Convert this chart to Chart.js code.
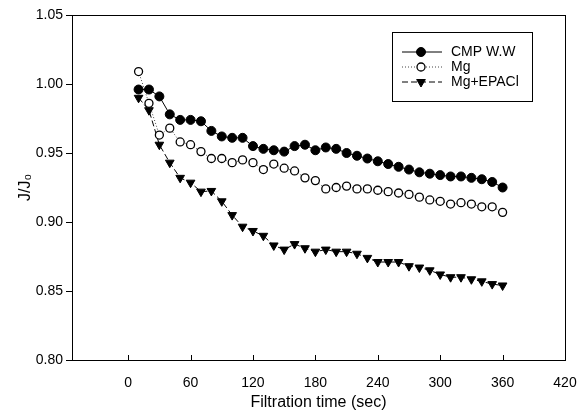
<!DOCTYPE html>
<html>
<head>
<meta charset="utf-8">
<script src="https://cdn.jsdelivr.net/npm/chart.js@4.4.0/dist/chart.umd.min.js"></script>
<style>
    html, body { margin: 0; padding: 0; background: #fff; }
    #wrap { width: 587px; height: 416px; }
</style>
</head>
<body>
<div id="wrap"><canvas id="fluxChart" width="587" height="416"></canvas></div>
<script>
// filtration time (sec)
const times = [10, 20, 30, 40, 50, 60, 70, 80, 90, 100, 110, 120,
    130, 140, 150, 160, 170, 180, 190, 200, 210, 220, 230, 240,
    250, 260, 270, 280, 290, 300, 310, 320, 330, 340, 350, 360];

// J/J0 per series
const cmpWW = [0.996, 0.996, 0.991, 0.978, 0.974, 0.974, 0.973, 0.966, 0.962, 0.961, 0.961, 0.955,
    0.953, 0.952, 0.951, 0.955, 0.956, 0.952, 0.954, 0.953, 0.950, 0.948, 0.946, 0.944,
    0.942, 0.940, 0.938, 0.936, 0.935, 0.934, 0.933, 0.933, 0.932, 0.931, 0.929, 0.925];
const mg = [1.009, 0.986, 0.963, 0.968, 0.958, 0.956, 0.951, 0.946, 0.946, 0.943, 0.945, 0.943,
    0.938, 0.942, 0.939, 0.937, 0.932, 0.930, 0.924, 0.925, 0.926, 0.924, 0.924, 0.923,
    0.922, 0.921, 0.920, 0.918, 0.916, 0.915, 0.913, 0.914, 0.913, 0.911, 0.911, 0.907];
const mgEpacl = [0.990, 0.981, 0.956, 0.943, 0.932, 0.9285, 0.922, 0.9225, 0.915, 0.905, 0.8966, 0.8935,
    0.890, 0.883, 0.880, 0.884, 0.881, 0.8785, 0.880, 0.8785, 0.8785, 0.877, 0.874, 0.871,
    0.871, 0.871, 0.868, 0.867, 0.865, 0.862, 0.860, 0.860, 0.8585, 0.857, 0.855, 0.854];

const seriesNames = ['CMP W.W', 'Mg', 'Mg+EPACl'];
const xTicks = [0, 60, 120, 180, 240, 300, 360, 420];
const yTicks = [0.80, 0.85, 0.90, 0.95, 1.00, 1.05];

function toPoints(values) {
    return times.map((t, i) => ({ x: t, y: values[i] }));
}

const FONT = '"Liberation Sans", Arial, sans-serif';

// frame box + inward x ticks
const framePlugin = {
    id: 'frame',
    afterDraw(chart) {
        const { ctx, chartArea: a } = chart;
        const xs = chart.scales.x;
        ctx.save();
        ctx.strokeStyle = '#000';
        ctx.lineWidth = 1;
        ctx.strokeRect(a.left + 0.5, a.top + 0.5, a.right - a.left, a.bottom - a.top);
        ctx.beginPath();
        xTicks.forEach(v => {
            const px = Math.round(xs.getPixelForValue(v)) + 0.5;
            ctx.moveTo(px, a.bottom);
            ctx.lineTo(px, a.bottom - 5);
        });
        ctx.stroke();
        ctx.restore();
    }
};

// legend box inside the plot
const boxLegendPlugin = {
    id: 'boxLegend',
    afterDraw(chart) {
        const { ctx } = chart;
        const left = 392, top = 32, w = 140, h = 69;
        ctx.save();
        ctx.strokeStyle = '#000';
        ctx.lineWidth = 1;
        ctx.strokeRect(left + 0.5, top + 0.5, w, h);
        chart.data.datasets.forEach((ds, i) => {
            const y = 52 + i * 15;
            ctx.beginPath();
            ctx.setLineDash(ds.borderDash || []);
            ctx.strokeStyle = ds.borderColor;
            ctx.lineWidth = ds.borderWidth;
            ctx.moveTo(402, y);
            ctx.lineTo(442, y);
            ctx.stroke();
            ctx.setLineDash([]);
            ctx.fillStyle = ds.pointBackgroundColor;
            ctx.strokeStyle = ds.pointBorderColor;
            ctx.lineWidth = ds.pointBorderWidth;
            Chart.helpers.drawPoint(ctx, {
                pointStyle: ds.pointStyle,
                radius: ds.pointRadius,
                rotation: ds.pointRotation || 0,
                borderWidth: ds.pointBorderWidth
            }, 421, y);
            ctx.fillStyle = '#000';
            ctx.font = '14px ' + FONT;
            ctx.textBaseline = 'middle';
            ctx.fillText(ds.label, 451, y);
        });
        ctx.restore();
    }
};

const ctx = document.getElementById('fluxChart').getContext('2d');
new Chart(ctx, {
    type: 'scatter',
    data: {
        datasets: [
            {
                label: seriesNames[0],
                data: toPoints(cmpWW),
                showLine: true,
                borderColor: '#000',
                borderWidth: 1,
                pointStyle: 'circle',
                pointRadius: 4.5,
                pointBackgroundColor: '#000',
                pointBorderColor: '#000',
                pointBorderWidth: 1
            },
            {
                label: seriesNames[1],
                data: toPoints(mg),
                showLine: true,
                borderColor: '#444',
                borderWidth: 1,
                borderDash: [1, 2],
                pointStyle: 'circle',
                pointRadius: 4,
                pointBackgroundColor: '#fff',
                pointBorderColor: '#000',
                pointBorderWidth: 1.3
            },
            {
                label: seriesNames[2],
                data: toPoints(mgEpacl),
                showLine: true,
                borderColor: '#000',
                borderWidth: 1,
                borderDash: [6, 3],
                pointStyle: 'triangle',
                pointRotation: 180,
                pointRadius: 5,
                pointBackgroundColor: '#000',
                pointBorderColor: '#000',
                pointBorderWidth: 1
            }
        ]
    },
    options: {
        responsive: false,
        animation: false,
        devicePixelRatio: 1,
        layout: { padding: { top: 15, right: 22, bottom: 0, left: 0 } },
        plugins: {
            legend: { display: false },
            tooltip: { enabled: false }
        },
        scales: {
            x: {
                type: 'linear',
                min: -54,
                max: 420,
                afterBuildTicks: scale => { scale.ticks = xTicks.map(v => ({ value: v })); },
                afterFit: scale => { scale.height = 56; },
                grid: { display: false },
                border: { display: true, color: '#000', width: 1 },
                ticks: {
                    color: '#000',
                    padding: 7,
                    maxRotation: 0,
                    font: { family: FONT, size: 14 }
                },
                title: {
                    display: true,
                    text: 'Filtration time (sec)',
                    color: '#000',
                    padding: { top: 8 },
                    font: { family: FONT, size: 16 }
                }
            },
            y: {
                min: 0.80,
                max: 1.05,
                afterBuildTicks: scale => { scale.ticks = yTicks.map(v => ({ value: v })); },
                afterFit: scale => { scale.width = 72; },
                grid: { drawOnChartArea: false, drawTicks: true, tickLength: 6, color: '#000' },
                border: { display: true, color: '#000', width: 1 },
                ticks: {
                    color: '#000',
                    padding: 3,
                    font: { family: FONT, size: 14 },
                    callback: v => v.toFixed(2)
                },
                title: {
                    display: true,
                    text: 'J/J₀',
                    color: '#000',
                    padding: { top: 16, bottom: 0 },
                    font: { family: FONT, size: 16 }
                }
            }
        }
    },
    plugins: [framePlugin, boxLegendPlugin]
});
</script>
</body>
</html>
